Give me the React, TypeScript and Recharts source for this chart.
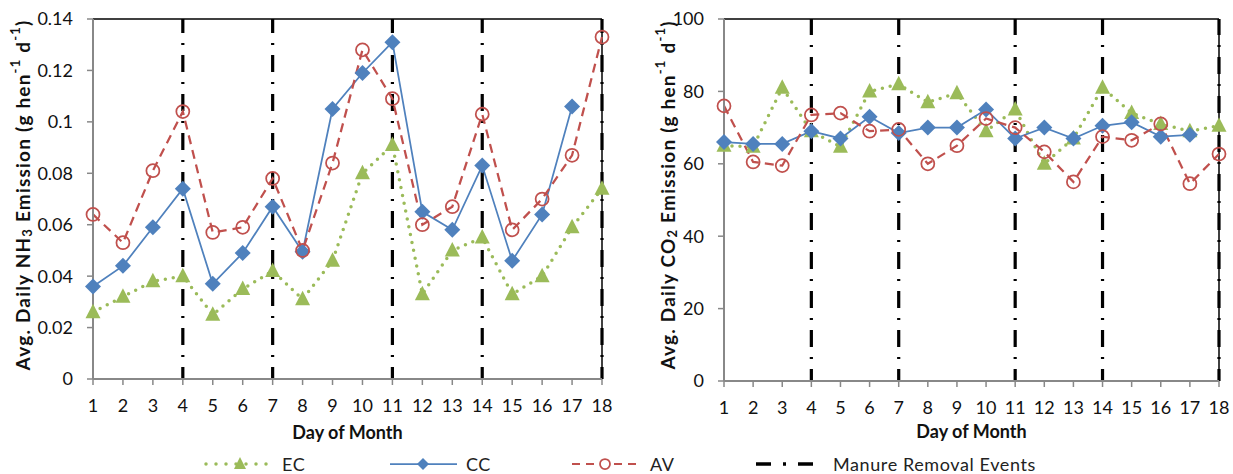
import React from 'react';
import { LineChart, Line, XAxis, YAxis, ReferenceLine, Label } from 'recharts';

// day of month, shared by both panels
const days = [1, 2, 3, 4, 5, 6, 7, 8, 9, 10, 11, 12, 13, 14, 15, 16, 17, 18];
const removalDays = [4, 7, 11, 14, 18];

// NH3 emission, g hen-1 d-1
const nh3EC = [0.026, 0.032, 0.038, 0.04, 0.025, 0.035, 0.042, 0.031, 0.046, 0.08, 0.091, 0.033, 0.05, 0.055, 0.033, 0.04, 0.059, 0.074];
const nh3CC = [0.036, 0.044, 0.059, 0.074, 0.037, 0.049, 0.067, 0.0495, 0.105, 0.119, 0.131, 0.065, 0.058, 0.083, 0.046, 0.064, 0.106, null];
const nh3AV = [0.064, 0.053, 0.081, 0.104, 0.057, 0.059, 0.078, 0.05, 0.084, 0.128, 0.109, 0.06, 0.067, 0.103, 0.058, 0.07, 0.087, 0.133];
const nh3Ticks = [0, 0.02, 0.04, 0.06, 0.08, 0.1, 0.12, 0.14];

// CO2 emission, g hen-1 d-1
const co2EC = [65, 64.7, 81, 69, 64.7, 80, 82, 77, 79.5, 69, 75, 60, 67, 81, 74, 71, 69, 70.5];
const co2CC = [66, 65.5, 65.5, 69, 67, 73, 68.5, 70, 70, 75, 67, 70, 67, 70.5, 71.5, 67.5, 68, null];
const co2AV = [76, 60.5, 59.5, 73.5, 74, 69, 69.5, 60, 65, 72.5, 70, 63.3, 55, 67.5, 66.5, 71, 54.5, 62.7];
const co2Ticks = [0, 20, 40, 60, 80, 100];

const FONT = 'Lato, "Open Sans", sans-serif';
const GREEN = '#9BBB59';
const BLUE = '#4F81BD';
const RED = '#C0504D';
const AXIS = '#888888';

type DotProps = { cx?: number | null; cy?: number | null; index?: number };

function Triangle({ cx, cy }: DotProps) {
  if (cx == null || cy == null) return null;
  return <path d={`M${cx},${cy - 8.5} L${cx + 7.5},${cy + 6} L${cx - 7.5},${cy + 6} Z`} fill={GREEN} />;
}

function Diamond({ cx, cy }: DotProps) {
  if (cx == null || cy == null) return null;
  const r = 8;
  return <path d={`M${cx},${cy - r} L${cx + r},${cy} L${cx},${cy + r} L${cx - r},${cy} Z`} fill={BLUE} />;
}

function Ring({ cx, cy }: DotProps) {
  if (cx == null || cy == null) return null;
  return <circle cx={cx} cy={cy} r={6.5} fill="none" stroke={RED} strokeWidth={1.75} />;
}

const tickStyle = { fontSize: 18, fontFamily: FONT, fill: '#111' };
const fmt = (v: number) => String(Number(v.toFixed(2)));

interface PanelProps {
  ec: (number | null)[];
  cc: (number | null)[];
  av: (number | null)[];
  ticks: number[];
  width: number;
  marginRight: number;
  yAxisWidth: number;
  xAxisHeight: number;
  titleX: number;
  titleBaseline: number;
  gas: string;
}

function Panel({ ec, cc, av, ticks, width, marginRight, yAxisWidth, xAxisHeight, titleX, titleBaseline, gas }: PanelProps) {
  const data = days.map((d, i) => ({ day: d, EC: ec[i], CC: cc[i], AV: av[i] }));
  const yMax = ticks[ticks.length - 1];

  const yTitle = ({ viewBox }: any) => {
    const cx = viewBox.x + titleX;
    const cy = 195;
    return (
      <text
        x={cx}
        y={cy}
        transform={`rotate(-90 ${cx} ${cy})`}
        textAnchor="middle"
        dominantBaseline="central"
        fontFamily={FONT}
        fontWeight={700}
        fontSize={19}
        letterSpacing={1.2}
        fill="#111"
      >
        Avg. Daily {gas}
        <tspan dy={5} fontSize={13}>{gas === 'NH' ? '3' : '2'}</tspan>
        <tspan dy={-5}> Emission (g hen</tspan>
        <tspan dy={-7} fontSize={13}>-1</tspan>
        <tspan dy={7}> d</tspan>
        <tspan dy={-7} fontSize={13}>-1</tspan>
        <tspan dy={7}>)</tspan>
      </text>
    );
  };

  const xTitle = ({ viewBox }: any) => (
    <text
      x={viewBox.x + viewBox.width / 2}
      y={viewBox.y + titleBaseline}
      textAnchor="middle"
      fontFamily={FONT}
      fontWeight={700}
      fontSize={18}
      fill="#111"
    >
      Day of Month
    </text>
  );

  return (
    <LineChart width={width} height={474} data={data} margin={{ top: 19, right: marginRight, bottom: 35, left: 0 }}>
      <XAxis
        type="number"
        dataKey="day"
        domain={[1, 18]}
        ticks={days}
        height={xAxisHeight}
        axisLine={{ stroke: AXIS, strokeWidth: 2 }}
        tickLine={{ stroke: AXIS, strokeWidth: 1.5 }}
        tickSize={6}
        tickMargin={14}
        tick={tickStyle}
      >
        <Label content={xTitle} />
      </XAxis>
      <YAxis
        type="number"
        domain={[0, yMax]}
        ticks={ticks}
        width={yAxisWidth}
        tickFormatter={fmt}
        axisLine={{ stroke: AXIS, strokeWidth: 2 }}
        tickLine={{ stroke: AXIS, strokeWidth: 1.5 }}
        tickSize={6}
        tickMargin={14}
        tick={tickStyle}
      >
        <Label content={yTitle} />
      </YAxis>

      {/* plot frame, top and right */}
      <ReferenceLine y={yMax} stroke="#000" strokeWidth={1.5} />
      <ReferenceLine x={18} stroke="#000" strokeWidth={1.5} />

      {removalDays.map((d) => (
        <ReferenceLine
          key={d}
          x={d}
          stroke="#000"
          strokeWidth={3.2}
          strokeDasharray="17 10 2 10"
          strokeDashoffset={5}
        />
      ))}

      <Line
        dataKey="EC"
        stroke={GREEN}
        strokeWidth={3.5}
        strokeDasharray="0 8"
        strokeLinecap="round"
        dot={(p: any) => <Triangle key={p.index} {...p} />}
        activeDot={false}
        isAnimationActive={false}
      />
      <Line
        dataKey="CC"
        stroke={BLUE}
        strokeWidth={1.75}
        dot={(p: any) => <Diamond key={p.index} {...p} />}
        activeDot={false}
        isAnimationActive={false}
      />
      <Line
        dataKey="AV"
        stroke={RED}
        strokeWidth={2.25}
        strokeDasharray="9 6"
        dot={(p: any) => <Ring key={p.index} {...p} />}
        activeDot={false}
        isAnimationActive={false}
      />
    </LineChart>
  );
}

function SharedLegend() {
  const y = 464;
  const text = { fontFamily: FONT, fontSize: 18, letterSpacing: 0.6, fill: '#222', dominantBaseline: 'central' as const };
  return (
    <svg width={1233} height={474} style={{ position: 'absolute', left: 0, top: 0, pointerEvents: 'none' }}>
      <line x1={206} y1={y} x2={268} y2={y} stroke={GREEN} strokeWidth={3.5} strokeDasharray="0 10" strokeLinecap="round" />
      <path d={`M240,${y - 7} L246,${y + 5} L234,${y + 5} Z`} fill={GREEN} />
      <text x={282} y={y} {...text}>EC</text>

      <line x1={390} y1={y} x2={457} y2={y} stroke={BLUE} strokeWidth={1.75} />
      <path d={`M423,${y - 6} L429,${y} L423,${y + 6} L417,${y} Z`} fill={BLUE} />
      <text x={466} y={y} {...text}>CC</text>

      <line x1={572} y1={y} x2={636} y2={y} stroke={RED} strokeWidth={2} strokeDasharray="8 6" />
      <circle cx={605} cy={y} r={5} fill="#fff" stroke={RED} strokeWidth={1.75} />
      <text x={650} y={y} {...text}>AV</text>

      <line x1={756} y1={y} x2={813} y2={y} stroke="#000" strokeWidth={3.5} strokeDasharray="15 12 3 12" />
      <text x={833} y={y} {...text}>Manure Removal Events</text>
    </svg>
  );
}

export default function App() {
  return (
    <div style={{ position: 'absolute', left: 0, top: 0, width: 1233, height: 474, background: '#fff' }}>
      <div style={{ position: 'absolute', left: 0, top: 0 }}>
        <Panel
          ec={nh3EC}
          cc={nh3CC}
          av={nh3AV}
          ticks={nh3Ticks}
          width={620}
          marginRight={18}
          yAxisWidth={93}
          xAxisHeight={60}
          titleX={22}
          titleBaseline={60}
          gas="NH"
        />
      </div>
      <div style={{ position: 'absolute', left: 620, top: 0 }}>
        <Panel
          ec={co2EC}
          cc={co2CC}
          av={co2AV}
          ticks={co2Ticks}
          width={613}
          marginRight={14}
          yAxisWidth={104}
          xAxisHeight={58}
          titleX={47}
          titleBaseline={57}
          gas="CO"
        />
      </div>
      <SharedLegend />
    </div>
  );
}
